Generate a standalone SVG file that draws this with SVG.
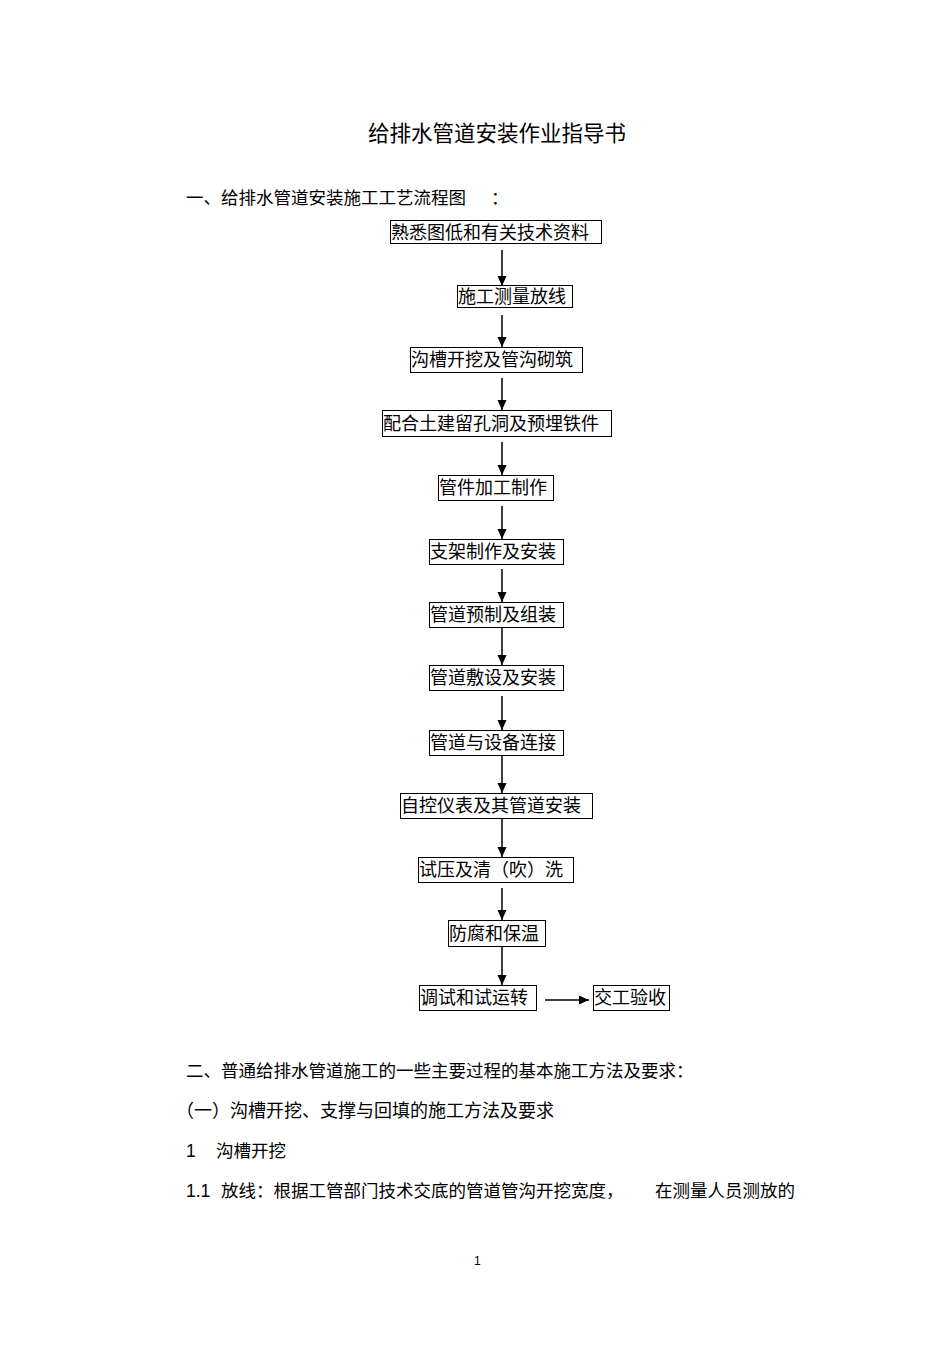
<svg xmlns="http://www.w3.org/2000/svg" width="950" height="1345" viewBox="0 0 950 1345">
<defs>
<style>
text{font-family:"Liberation Sans","Noto Sans CJK SC",sans-serif;fill:#000}
.t{font-size:21.5px}
.p{font-size:17.5px}
.b{font-size:18px}
.n rect{fill:#fff;stroke:#000;stroke-width:1}
.c line{stroke:#000;stroke-width:1.5}
</style>
<marker id="ah" markerUnits="userSpaceOnUse" markerWidth="10" markerHeight="10" viewBox="0 0 10 10" refX="10" refY="5" orient="auto">
<path d="M0,0.5 L10,5 L0,9.5 Z" fill="#000"/>
</marker>
</defs>
<rect width="950" height="1345" fill="#fff"/>
<text class="t" x="368" y="141">给排水管道安装作业指导书</text>
<text class="p" x="186" y="204">一、给排水管道安装施工工艺流程图<tspan x="491">：</tspan></text>

<g class="c">
<line x1="502" y1="250" x2="502" y2="286" marker-end="url(#ah)"/>
<line x1="502" y1="315" x2="502" y2="347" marker-end="url(#ah)"/>
<line x1="502" y1="378" x2="502" y2="410" marker-end="url(#ah)"/>
<line x1="502" y1="442" x2="502" y2="475" marker-end="url(#ah)"/>
<line x1="502" y1="506" x2="502" y2="539" marker-end="url(#ah)"/>
<line x1="502" y1="569" x2="502" y2="602" marker-end="url(#ah)"/>
<line x1="502" y1="627" x2="502" y2="665" marker-end="url(#ah)"/>
<line x1="502" y1="696" x2="502" y2="730" marker-end="url(#ah)"/>
<line x1="502" y1="755" x2="502" y2="793" marker-end="url(#ah)"/>
<line x1="502" y1="818" x2="502" y2="857" marker-end="url(#ah)"/>
<line x1="502" y1="888" x2="502" y2="920" marker-end="url(#ah)"/>
<line x1="502" y1="946" x2="502" y2="985" marker-end="url(#ah)"/>
<line x1="545" y1="1000" x2="589" y2="1000" marker-end="url(#ah)"/>
</g>

<g id="n1" class="n"><rect x="390.5" y="220.5" width="211" height="23"/><text class="b" x="391" y="239">熟悉图低和有关技术资料</text></g>
<g id="n2" class="n"><rect x="457.5" y="285.5" width="115" height="22"/><text class="b" x="458" y="303">施工测量放线</text></g>
<g id="n3" class="n"><rect x="410.5" y="347.5" width="172" height="25"/><text class="b" x="411" y="366">沟槽开挖及管沟砌筑</text></g>
<g id="n4" class="n"><rect x="382.5" y="410.5" width="229" height="26"/><text class="b" x="383" y="430">配合土建留孔洞及预埋铁件</text></g>
<g id="n5" class="n"><rect x="438.5" y="475.5" width="115" height="25"/><text class="b" x="439" y="494">管件加工制作</text></g>
<g id="n6" class="n"><rect x="429.5" y="539.5" width="134" height="25"/><text class="b" x="430" y="558">支架制作及安装</text></g>
<g id="n7" class="n"><rect x="429.5" y="602.5" width="134" height="25"/><text class="b" x="430" y="621">管道预制及组装</text></g>
<g id="n8" class="n"><rect x="429.5" y="665.5" width="134" height="25"/><text class="b" x="430" y="684">管道敷设及安装</text></g>
<g id="n9" class="n"><rect x="429.5" y="730.5" width="134" height="25"/><text class="b" x="430" y="749">管道与设备连接</text></g>
<g id="n10" class="n"><rect x="400.5" y="793.5" width="192" height="25"/><text class="b" x="401" y="812">自控仪表及其管道安装</text></g>
<g id="n11" class="n"><rect x="418.5" y="857.5" width="155" height="25"/><text class="b" x="419" y="876">试压及清（吹）洗</text></g>
<g id="n12" class="n"><rect x="448.5" y="920.5" width="97" height="26"/><text class="b" x="449" y="940">防腐和保温</text></g>
<g id="n13" class="n"><rect x="419.5" y="985.5" width="117" height="25"/><text class="b" x="420" y="1004">调试和试运转</text></g>
<g id="n14" class="n"><rect x="593.5" y="985.5" width="76" height="25"/><text class="b" x="594" y="1004">交工验收</text></g>

<text class="p" x="186" y="1077">二、普通给排水管道施工的一些主要过程的基本施工方法及要求：</text>
<text class="p" x="176" y="1117" style="font-size:18px">（一）沟槽开挖、支撑与回填的施工方法及要求</text>
<text class="p" x="186" y="1157">1<tspan x="216">沟槽开挖</tspan></text>
<text class="p" x="186" y="1197">1.1<tspan x="221">放线：根据工管部门技术交底的管道管沟开挖宽度，</tspan><tspan x="655">在测量人员测放的</tspan></text>
<text x="474" y="1265" style="font-size:12px">1</text>
</svg>
